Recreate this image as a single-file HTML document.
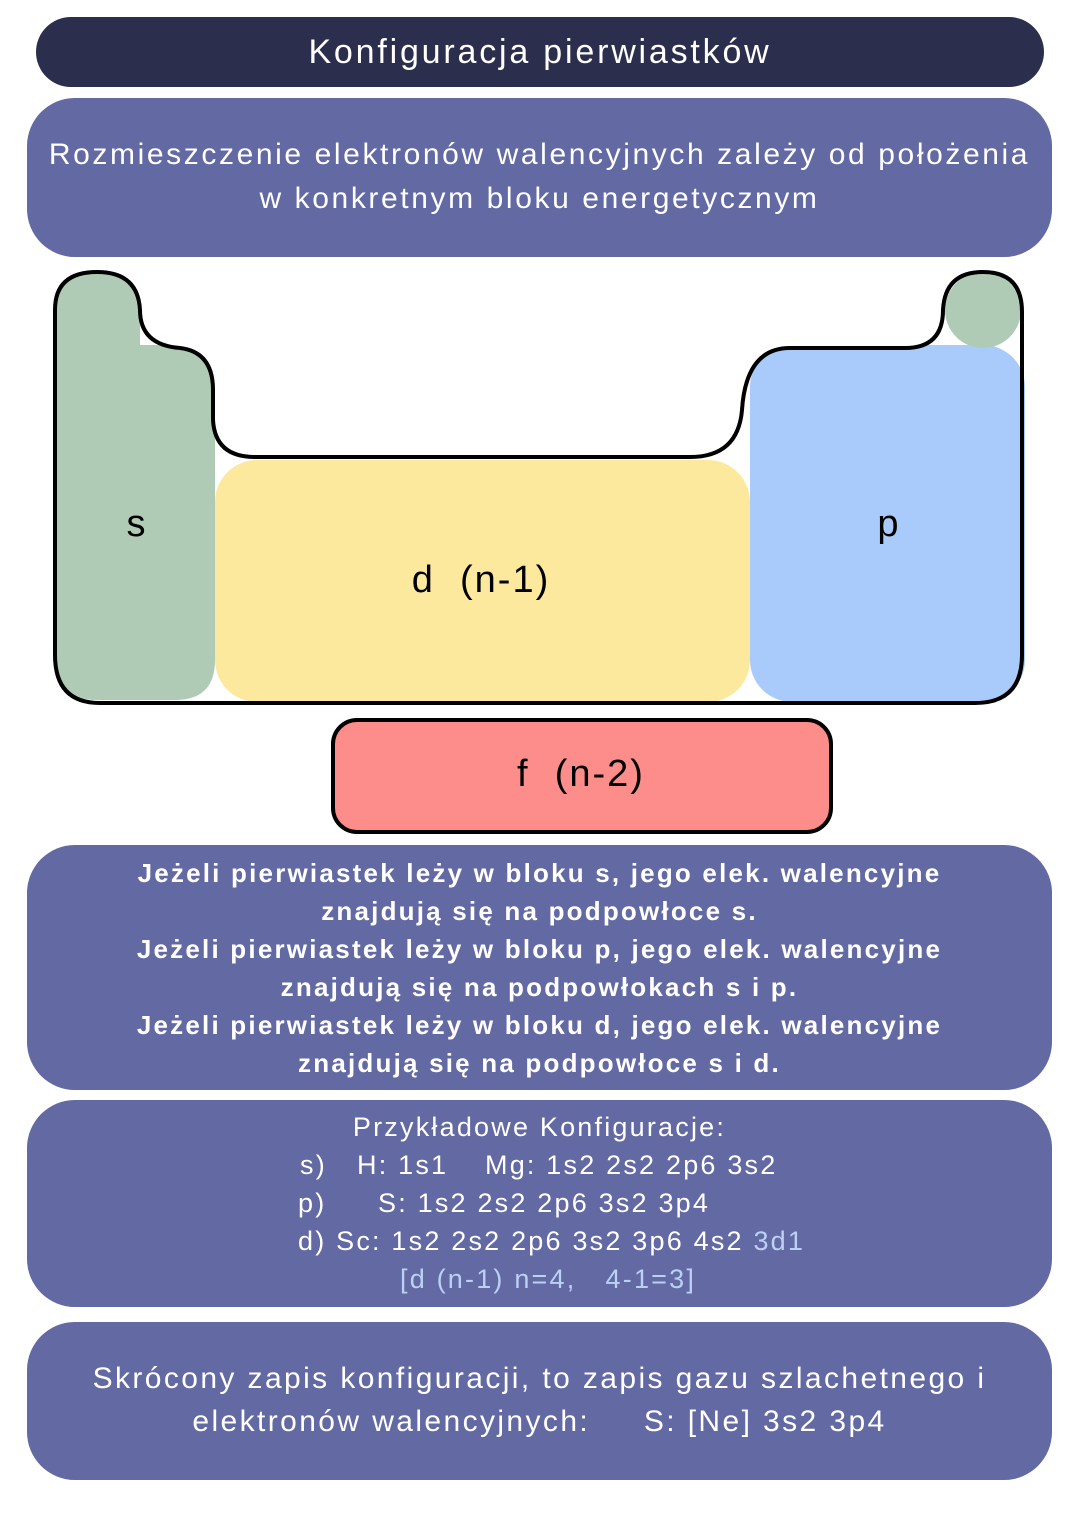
<!DOCTYPE html>
<html><head><meta charset="utf-8"><style>
body{margin:0;width:1080px;height:1527px;background:#fff;position:relative;font-family:"Liberation Sans",sans-serif;overflow:hidden}
.b{position:absolute;background:#6269a3;color:#fff;text-align:center;box-sizing:border-box}
.l{position:absolute;left:0;right:0;text-align:center;white-space:pre}
.a{position:absolute;white-space:pre}
</style></head><body>
<div class="b" style="left:36px;top:17px;width:1008px;height:70px;border-radius:35px;background:#2b2e4c;font-size:34px;line-height:70px;letter-spacing:2.8px">Konfiguracja pierwiastków</div>
<div class="b" style="left:27px;top:98px;width:1025px;height:159px;border-radius:48px;font-size:30px;letter-spacing:2.6px">
<div class="l" style="top:40px">Rozmieszczenie elektronów walencyjnych zależy od położenia</div>
<div class="l" style="top:84px">w konkretnym bloku energetycznym</div></div>

<svg style="position:absolute;left:0;top:0" width="1080" height="850">
<path d="M55 310 Q55 272 97 272 Q138 272 140 310 L140 345 L215 345 L215 660 Q215 700 175 700 L97 700 Q55 700 55 655 Z" fill="#b0cbb5"/>
<rect x="215" y="460" width="535" height="242" rx="42" fill="#fde99d"/>
<rect x="750" y="345" width="275" height="357" rx="42" fill="#a9cbfc"/>
<circle cx="983" cy="310" r="38" fill="#b0cbb5"/>
<path d="M140 320 Q140 345 180 348 Q213 352 213 390 L213 420 Q215 457 255 457 L690 457 Q738 457 742 410 Q746 348 790 348 L905 348 Q943 348 943 310 L943 266 L140 266 Z" fill="#fff" stroke="none"/>
<path d="M55 310 Q55 272 97 272 Q138 272 140 310 Q140 345 180 348 Q213 352 213 390 L213 420 Q215 457 255 457 L690 457 Q738 457 742 410 Q746 348 790 348 L905 348 Q943 348 943 310 Q945 272 983 272 Q1022 272 1022 312 L1022 655 Q1022 703 975 703 L100 703 Q55 703 55 655 Z" fill="none" stroke="#000" stroke-width="4"/>
<rect x="333" y="720" width="498" height="112" rx="24" fill="#fd8d8a" stroke="#000" stroke-width="4"/>
<text x="136" y="536" font-size="38" text-anchor="middle" font-family="Liberation Sans">s</text>
<text x="888" y="536" font-size="38" text-anchor="middle" font-family="Liberation Sans">p</text>
<text x="481" y="592" font-size="38" text-anchor="middle" font-family="Liberation Sans" letter-spacing="2" xml:space="preserve">d  (n-1)</text>
<text x="581" y="786" font-size="38" text-anchor="middle" font-family="Liberation Sans" letter-spacing="2" xml:space="preserve">f  (n-2)</text>
</svg>

<div class="b" style="left:27px;top:845px;width:1025px;height:245px;border-radius:48px;font-size:26px;font-weight:bold;letter-spacing:2.2px">
<div class="l" style="top:13px">Jeżeli pierwiastek leży w bloku s, jego elek. walencyjne</div>
<div class="l" style="top:51px">znajdują się na podpowłoce s.</div>
<div class="l" style="top:89px">Jeżeli pierwiastek leży w bloku p, jego elek. walencyjne</div>
<div class="l" style="top:127px">znajdują się na podpowłokach s i p.</div>
<div class="l" style="top:165px">Jeżeli pierwiastek leży w bloku d, jego elek. walencyjne</div>
<div class="l" style="top:203px">znajdują się na podpowłoce s i d.</div></div>

<div class="b" style="left:27px;top:1100px;width:1025px;height:207px;border-radius:48px;font-size:27px;letter-spacing:2.2px">
<div class="l" style="top:12px">Przykładowe Konfiguracje:</div>
<div class="a" style="top:50px;left:273px">s)</div>
<div class="a" style="top:50px;left:330px">H: 1s1</div>
<div class="a" style="top:50px;left:458px">Mg: 1s2 2s2 2p6 3s2</div>
<div class="a" style="top:88px;left:271px">p)</div>
<div class="a" style="top:88px;left:351px">S: 1s2 2s2 2p6 3s2 3p4</div>
<div class="a" style="top:126px;left:271px">d) Sc: 1s2 2s2 2p6 3s2 3p6 4s2 <span style="color:#bcd0f5">3d1</span></div>
<div class="a" style="top:164px;left:373px;color:#bcd0f5">[d (n-1) n=4,   4-1=3]</div></div>

<div class="b" style="left:27px;top:1322px;width:1025px;height:158px;border-radius:48px;font-size:30px;letter-spacing:2.4px">
<div class="l" style="top:40px">Skrócony zapis konfiguracji, to zapis gazu szlachetnego i</div>
<div class="l" style="top:83px">elektronów walencyjnych:     S: [Ne] 3s2 3p4</div></div>
</body></html>
